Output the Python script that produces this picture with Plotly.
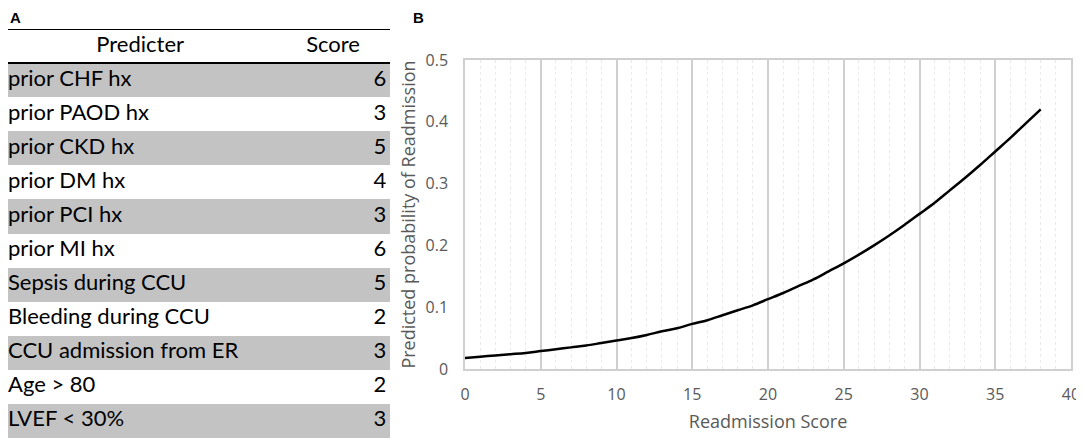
import plotly.graph_objects as go

# table (panel A)
header = ["Predicter", "Score"]
predictors = ["prior CHF hx", "prior PAOD hx", "prior CKD hx", "prior DM hx", "prior PCI hx",
              "prior MI hx", "Sepsis during CCU", "Bleeding during CCU", "CCU admission from ER",
              "Age > 80", "LVEF < 30%"]
scores = [6, 3, 5, 4, 3, 6, 5, 2, 3, 2, 3]

# curve (panel B)
readmission_score = list(range(0, 39))
predicted_prob = [0.018, 0.020, 0.022, 0.024, 0.026, 0.029, 0.032, 0.035, 0.038, 0.042,
                  0.046, 0.050, 0.055, 0.061, 0.066, 0.073, 0.079, 0.087, 0.095, 0.103,
                  0.113, 0.123, 0.134, 0.145, 0.158, 0.171, 0.185, 0.200, 0.216, 0.233,
                  0.251, 0.269, 0.289, 0.309, 0.330, 0.352, 0.374, 0.397, 0.420]

y_ticks = [0, 0.1, 0.2, 0.3, 0.4, 0.5]
y_tick_labels = ["0", "0.1", "0.2", "0.3", "0.4", "0.5"]

# page is drawn with the body's 8px margin, so work in page pixels and shift
OFF = 8
W, H = 1084 - OFF, 445 - OFF


def px(x):
    return min(1, max(0, (x - OFF) / W))


def py(y):
    return min(1, max(0, 1 - (y - OFF) / H))


GRAY_ROW = "#c3c3c3"
row_pos = list(range(1, len(predictors) + 1))   # header sits on row 0
row_fill = [GRAY_ROW if i % 2 == 0 else "white" for i in range(len(predictors))]
table_font = dict(family="Lato", size=22, color="black")

# table drawn on its own hidden axes: row backgrounds as bars, cells as text
row_bars = go.Bar(
    y=row_pos, x=[1] * len(predictors), base=0, width=1, orientation="h",
    marker=dict(color=row_fill, line=dict(width=0)),
    xaxis="x2", yaxis="y2", showlegend=False, hoverinfo="skip",
)
header_text = go.Scatter(
    x=[0.346, 0.851], y=[0, 0], text=header, mode="text", textposition="middle center",
    textfont=table_font, xaxis="x2", yaxis="y2", showlegend=False, hoverinfo="skip",
)
name_text = go.Scatter(
    x=[0] * len(predictors), y=row_pos, text=predictors, mode="text",
    textposition="middle right", textfont=table_font,
    xaxis="x2", yaxis="y2", showlegend=False, hoverinfo="skip",
)
score_text = go.Scatter(
    x=[0.99] * len(scores), y=row_pos, text=[str(s) for s in scores], mode="text",
    textposition="middle left", textfont=table_font,
    xaxis="x2", yaxis="y2", showlegend=False, hoverinfo="skip",
)

curve = go.Scatter(
    x=readmission_score,
    y=predicted_prob,
    mode="lines",
    line=dict(color="black", width=2.5, shape="spline"),
    showlegend=False,
    hoverinfo="skip",
)

fig = go.Figure(data=[row_bars, header_text, name_text, score_text, curve])

axis_gray = "#595959"
fig.update_layout(
    width=W,
    height=H,
    margin=dict(l=0, r=0, t=0, b=0),
    paper_bgcolor="white",
    plot_bgcolor="white",
    font=dict(family="Open Sans", color=axis_gray),
    bargap=0,
    xaxis=dict(
        domain=[px(465), px(1071)],
        range=[0, 40],
        dtick=5,
        showgrid=True,
        gridcolor="#cfcfcf",
        gridwidth=1.5,
        minor=dict(dtick=1, showgrid=True, gridcolor="#eaeaea", griddash="dot", gridwidth=1),
        showline=True,
        linecolor="#cfcfcf",
        linewidth=1.5,
        mirror=True,
        zeroline=False,
        ticks="",
        ticklabelstandoff=10,
        automargin=False,
        tickfont=dict(size=16, color=axis_gray),
        title=dict(text="Readmission Score", font=dict(size=18, color=axis_gray), standoff=11),
    ),
    yaxis=dict(
        domain=[py(369), py(60)],
        range=[0, 0.5],
        tickvals=y_ticks,
        ticktext=y_tick_labels,
        showgrid=False,
        showline=True,
        linecolor="#cfcfcf",
        linewidth=1.5,
        mirror=True,
        zeroline=False,
        ticks="",
        ticklabelstandoff=12,
        automargin=False,
        tickfont=dict(size=16, color=axis_gray),
        title=dict(text="Predicted probability of Readmission", font=dict(size=18, color=axis_gray),
                   standoff=5),
    ),
    xaxis2=dict(domain=[px(8), px(390)], range=[0, 1], visible=False, anchor="y2",
                fixedrange=True),
    yaxis2=dict(domain=[py(438), py(29)], range=[len(predictors) + 0.5, -0.5], visible=False,
                anchor="x2", fixedrange=True),
    annotations=[
        dict(text="<b>A</b>", x=px(8), y=py(17), xref="paper", yref="paper",
             xanchor="left", yanchor="middle", showarrow=False,
             font=dict(family="Liberation Sans", size=15, color="black")),
        dict(text="<b>B</b>", x=px(411), y=py(17), xref="paper", yref="paper",
             xanchor="left", yanchor="middle", showarrow=False,
             font=dict(family="Liberation Sans", size=15, color="black")),
    ],
    shapes=[
        dict(type="line", xref="paper", yref="y2", x0=px(8), x1=px(390),
             y0=-0.5, y1=-0.5, line=dict(color="black", width=2)),
        dict(type="line", xref="paper", yref="y2", x0=px(8), x1=px(390),
             y0=0.5, y1=0.5, line=dict(color="black", width=2)),
    ],
)

fig.write_html("out.html")
